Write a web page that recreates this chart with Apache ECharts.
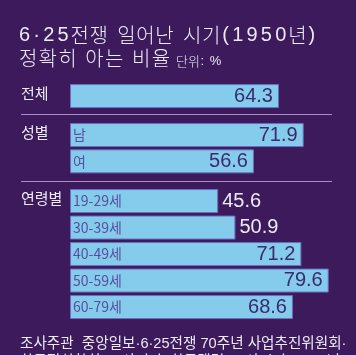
<!DOCTYPE html>
<html><head><meta charset="utf-8">
<script src="https://cdn.jsdelivr.net/npm/echarts@6/dist/echarts.min.js"></script>
<style>html,body{margin:0;padding:0;background:#3d1a5c;}#c{width:356px;height:355px;}</style>
</head><body><div id="c"></div>
<script>
const totalCats = ['전체'];
const totalVals = [64.3];
const genderCats = ['남', '여'];
const genderVals = [71.9, 56.6];
const ageCats = ['19-29세', '30-39세', '40-49세', '50-59세', '60-79세'];
const ageVals = [45.6, 50.9, 71.2, 79.6, 68.6];
const outsideLabel = [false, false, false, false, false];
const ageOutside = [true, true, false, false, false];

const KR = '"Noto Sans CJK KR", "Noto Sans", sans-serif';
const MIX = '"Liberation Sans", "Noto Sans CJK KR", sans-serif';
const NUM = '"Liberation Sans", Arial, sans-serif';
const BAR = '#84cbec';
const BORDER = '#6a6fc0';
const INK = '#3b2a6e';
const CATINK = '#5a4f9e';
const WHITE = '#ecebf3';

const chart = echarts.init(document.getElementById('c'));

const grids = [
  {left: 70, right: 0, top: 82.9, height: 26.3, outerBoundsMode: 'none'},
  {left: 70, right: 0, top: 121.9, height: 52.6, outerBoundsMode: 'none'},
  {left: 70, right: 0, top: 187.8, height: 132.5, outerBoundsMode: 'none'}
];
const groups = [
  {cats: totalCats, vals: totalVals, out: outsideLabel, inner: false},
  {cats: genderCats, vals: genderVals, out: outsideLabel, inner: true},
  {cats: ageCats, vals: ageVals, out: ageOutside, inner: true}
];

const BW = 24;
const xAxis = [], yAxis = [], series = [];
groups.forEach((g, i) => {
  xAxis.push({type: 'value', gridIndex: i, min: 0, max: 88, show: false});
  yAxis.push({type: 'category', gridIndex: i, data: g.cats, inverse: true, show: false});
  series.push({
    type: 'bar', xAxisIndex: i, yAxisIndex: i, barWidth: BW, silent: true,
    data: g.vals.map((v, k) => ({
      value: v,
      label: g.out[k]
        ? {show: true, position: 'right', distance: 4, color: WHITE, fontSize: 20, fontFamily: NUM, formatter: '{c}'}
        : {show: true, position: 'insideRight', distance: 6, color: INK, fontSize: 20, fontFamily: NUM, formatter: '{c}'}
    })),
    itemStyle: {color: BAR, borderColor: BORDER, borderWidth: 1}
  });
  if (g.inner) {
    series.push({
      type: 'bar', xAxisIndex: i, yAxisIndex: i, barWidth: BW, barGap: '-100%', silent: true,
      data: g.vals.map(v => v),
      itemStyle: {color: 'transparent'},
      label: {show: true, position: 'insideLeft', distance: 3, color: CATINK, fontSize: 14, fontFamily: KR,
        formatter: p => g.cats[p.dataIndex]}
    });
  }
});

// spaced text: Korean glyphs get padding kp, other glyphs get padding np
function spaced(x, y, s, size, kp, np) {
  const isKo = ch => /[\u3131-\uD79D]/.test(ch);
  const rich = {
    k: {fontSize: size, fontFamily: KR, fontWeight: 300, fill: WHITE, padding: [0, kp, 0, kp]},
    n: {fontSize: size, fontFamily: NUM, fontWeight: 300, fill: WHITE, padding: [0, np, 0, np]}
  };
  const text = Array.from(s).map(ch => `{${isKo(ch) ? 'k' : 'n'}|${ch}}`).join('');
  return {type: 'text', left: x, top: y, silent: true, style: {text, rich, fill: WHITE, font: `300 ${size}px ${KR}`}};
}
const txt = (x, y, s, size, fam) => ({
  type: 'text', left: x, top: y, silent: true,
  style: {text: s, fill: WHITE, font: `${size}px ${fam || KR}`}
});

chart.setOption({
  backgroundColor: '#3d1a5c',
  animation: false,
  grid: grids,
  xAxis, yAxis, series,
  graphic: [
    spaced(19, 25, '6·25전쟁 일어난 시기(1950년)', 20, 0.3, 1.6),
    spaced(19, 48, '정확히 아는 비율', 20, 0.6, 1),
    spaced(176, 55, '단위: %', 13, 0, 0.5),
    txt(21, 86, '전체', 15),
    txt(21, 125, '성별', 15),
    txt(21, 191, '연령별', 15),
    {type: 'line', silent: true, shape: {x1: 21, y1: 114.5, x2: 332, y2: 114.5}, style: {stroke: '#a98bc9', lineWidth: 1}},
    {type: 'line', silent: true, shape: {x1: 21, y1: 181.5, x2: 332, y2: 181.5}, style: {stroke: '#a98bc9', lineWidth: 1}},
    txt(20, 337, '조사주관  중앙일보·6·25전쟁 70주년 사업추진위원회·', 14.6, MIX),
    txt(20, 355, '한국정치학회  조사기관  한국갤럽  조사시기  2020년', 14.6, MIX)
  ]
});
</script></body></html>
